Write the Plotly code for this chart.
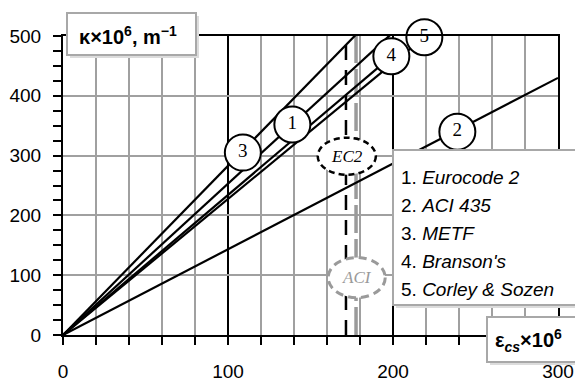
import plotly.graph_objects as go

# ---- data ----
series_names = ["Eurocode 2", "ACI 435", "METF", "Branson's", "Corley & Sozen"]
series_numbers = ["1", "2", "3", "4", "5"]
eps_start = [0, 0, 0, 0, 0]
kappa_start = [0, 0, 0, 0, 0]
eps_end = [200, 300, 181, 199, 219]
kappa_end = [506, 430, 512, 466, 498]

label_eps = [139, 239, 109, 199, 219]
label_kappa = [352, 340, 305, 466, 498]

ec2_limit = 171.5
aci_limit = 177.6
ec2_mark = [172, 299]
aci_mark = [178, 96]

x_ticks = [0, 100, 200, 300]
x_tick_labels = ["0", "100", "200", "300"]
y_ticks = [0, 100, 200, 300, 400, 500]
y_tick_labels = ["0", "100", "200", "300", "400", "500"]

fig = go.Figure()

# limit lines
fig.add_trace(go.Scatter(x=[ec2_limit, ec2_limit], y=[0, 500], mode="lines",
                         line=dict(color="black", width=2.5, dash="15px,10px"),
                         showlegend=False, hoverinfo="skip"))
fig.add_trace(go.Scatter(x=[aci_limit, aci_limit], y=[0, 500], mode="lines",
                         line=dict(color="#9a9a9a", width=3.5, dash="28px,6px"),
                         showlegend=False, hoverinfo="skip"))

# curvature lines
for i in range(len(series_names)):
    fig.add_trace(go.Scatter(x=[eps_start[i], eps_end[i]], y=[kappa_start[i], kappa_end[i]],
                             mode="lines", name=series_names[i],
                             line=dict(color="black", width=2.2), showlegend=False))

# numbered circles
fig.add_trace(go.Scatter(x=label_eps, y=label_kappa, mode="markers+text",
                         text=series_numbers, textposition="middle center",
                         textfont=dict(family="Liberation Serif", size=19, color="black"),
                         marker=dict(size=36, color="white", line=dict(color="black", width=2)),
                         cliponaxis=False, showlegend=False, hoverinfo="skip"))

L, R, T, B = 63, 17, 36, 46
W, H = 575, 381
pw, ph = W - L - R, H - T - B


def px(xp):
    return (xp - L) / pw


def py(yp):
    return (H - B - yp) / ph


shapes = []
# ellipses
shapes.append(dict(type="circle", xref="x", yref="y",
                   x0=ec2_mark[0] - 17.6, x1=ec2_mark[0] + 17.6,
                   y0=ec2_mark[1] - 31, y1=ec2_mark[1] + 31,
                   line=dict(color="black", width=2.5, dash="6px,4px"),
                   fillcolor="white", layer="above"))
shapes.append(dict(type="circle", xref="x", yref="y",
                   x0=aci_mark[0] - 17.3, x1=aci_mark[0] + 17.3,
                   y0=aci_mark[1] - 33.5, y1=aci_mark[1] + 33.5,
                   line=dict(color="#9a9a9a", width=3, dash="8px,5px"),
                   fillcolor="white", layer="above"))


def box(x0, x1, y0, y1, shadow=True):
    if shadow:
        shapes.append(dict(type="rect", xref="paper", yref="paper",
                           x0=px(x0 + 3), x1=px(x1 + 3), y0=py(y1 + 3), y1=py(y0 + 3),
                           line=dict(width=0), fillcolor="#dcdcdc", layer="above"))
    shapes.append(dict(type="rect", xref="paper", yref="paper",
                       x0=px(x0), x1=px(x1), y0=py(y1), y1=py(y0),
                       line=dict(color="#a8a8a8", width=2), fillcolor="white", layer="above"))


box(67, 196, 13, 55)
box(487, 580, 317, 362)
box(393, 580, 150, 305)

annotations = []
annotations.append(dict(xref="paper", yref="paper", x=px(128), y=py(35),
                        xanchor="center", yanchor="middle",
                        text="<b>κ×10<sup>6</sup>, m<sup>−1</sup></b>", showarrow=False,
                        font=dict(family="Liberation Sans", size=20, color="black")))
annotations.append(dict(xref="paper", yref="paper", x=px(528), y=py(340),
                        xanchor="center", yanchor="middle",
                        text="<b>ε<sub><i>cs</i></sub>×10<sup>6</sup></b>", showarrow=False,
                        font=dict(family="Liberation Sans", size=20, color="black")))
leg_y = [177.5, 205, 233, 261, 289.5]
for i in range(len(series_names)):
    annotations.append(dict(xref="paper", yref="paper", x=px(399), y=py(leg_y[i]),
                            xanchor="left", yanchor="middle",
                            text=series_numbers[i] + ". <i>" + series_names[i] + "</i>",
                            showarrow=False,
                            font=dict(family="Liberation Sans", size=19, color="black")))
annotations.append(dict(xref="x", yref="y", x=ec2_mark[0], y=ec2_mark[1], text="<i>EC2</i>",
                        xanchor="center", yanchor="middle",
                        showarrow=False, font=dict(family="Liberation Serif", size=17, color="black")))
annotations.append(dict(xref="x", yref="y", x=aci_mark[0], y=aci_mark[1], text="<i>ACI</i>",
                        xanchor="center", yanchor="middle",
                        showarrow=False, font=dict(family="Liberation Serif", size=17, color="#9a9a9a")))

fig.update_layout(
    width=W, height=H,
    margin=dict(l=L, r=R, t=T, b=B),
    paper_bgcolor="white", plot_bgcolor="white",
    showlegend=False,
    shapes=shapes, annotations=annotations,
    xaxis=dict(range=[0, 300], tickvals=x_ticks, ticktext=x_tick_labels,
               ticks="outside", ticklen=8, tickwidth=1.5, tickcolor="black",
               showgrid=True, gridcolor="black", gridwidth=1.5,
               showline=True, linecolor="black", linewidth=2, mirror=True,
               zeroline=False, ticklabelstandoff=10, automargin=False,
               tickfont=dict(family="Liberation Sans", size=19, color="black"),
               minor=dict(dtick=20, ticks="outside", ticklen=8, tickwidth=1.5, tickcolor="black",
                          showgrid=True, gridcolor="#a0a0a0", gridwidth=1.5)),
    yaxis=dict(range=[0, 500], tickvals=y_ticks, ticktext=y_tick_labels,
               ticks="outside", ticklen=8, tickwidth=1.5, tickcolor="black",
               showgrid=True, gridcolor="#a0a0a0", gridwidth=1.5,
               showline=True, linecolor="black", linewidth=2, mirror=True,
               zeroline=False, ticklabelstandoff=8, automargin=False,
               tickfont=dict(family="Liberation Sans", size=19, color="black"),
               minor=dict(dtick=25, ticks="outside", ticklen=8, tickwidth=1.5, tickcolor="black",
                          showgrid=False)),
)

fig.write_html("out.html", config={"displayModeBar": False},
               post_script="document.body.style.margin='0';document.body.style.overflow='hidden';")
